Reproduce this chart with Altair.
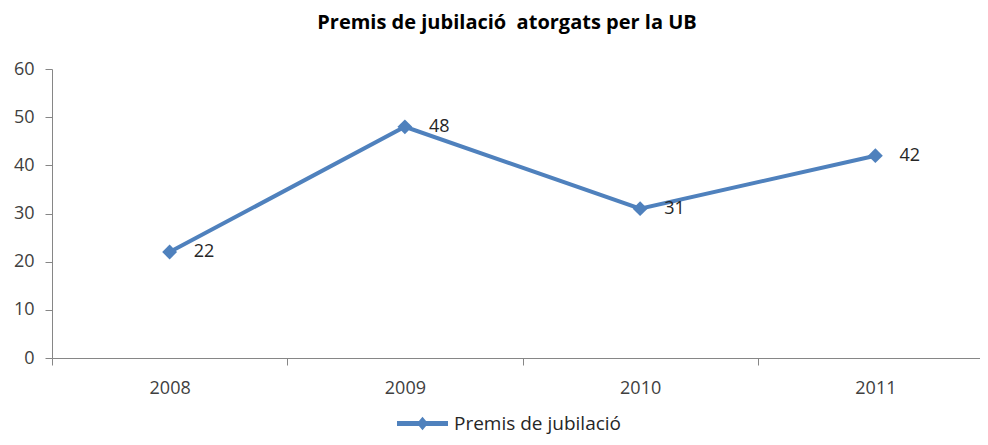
import altair as alt
import pandas as pd

years = ["2008", "2009", "2010", "2011"]
values = [22, 48, 31, 42]
series_name = "Premis de jubilació"
title_text = "Premis de jubilació\u00a0 atorgats per la UB"
y_ticks = [0, 10, 20, 30, 40, 50, 60]

BLUE = "#4F81BD"
FONT = "Open Sans"

df = pd.DataFrame({"year": years, "value": values, "series": [series_name] * len(years)})

x_enc = alt.X(
    "year:N",
    sort=years,
    title=None,
    scale=alt.Scale(range=[0, 941], paddingInner=0, paddingOuter=0),
    axis=alt.Axis(
        labelAngle=0,
        tickBand="extent",
        tickSize=7,
        labelPadding=14,
        labelFontSize=18,
        labelFont=FONT,
        labelColor="#404040",
        domainColor="#868686",
        tickColor="#868686",
        grid=False,
    ),
)
y_enc = alt.Y(
    "value:Q",
    title=None,
    scale=alt.Scale(domain=[0, 60], nice=False),
    axis=alt.Axis(
        values=y_ticks,
        tickSize=7,
        labelPadding=11,
        labelFontSize=18,
        labelFont=FONT,
        labelColor="#404040",
        domainColor="#868686",
        tickColor="#868686",
        grid=False,
    ),
)

line = alt.Chart(df).mark_line(strokeWidth=4).encode(
    x=x_enc,
    y=y_enc,
    color=alt.Color(
        "series:N",
        scale=alt.Scale(range=[BLUE]),
        legend=alt.Legend(
            title=None,
            orient="none",
            legendX=345,
            legendY=329,
            padding=0,
            symbolType="M-1,-0.1H1V0.1H-1Z M0,-0.26L0.22,0L0,0.26L-0.22,0Z",
            symbolSize=2601,
            symbolFillColor=BLUE,
            symbolStrokeWidth=0,
            labelFontSize=19,
            labelFont=FONT,
            labelColor="#262626",
            labelOffset=6,
            labelLimit=400,
        ),
    ),
)

points = alt.Chart(df).mark_point(
    shape="diamond", filled=True, size=220, color=BLUE, opacity=1
).encode(x=x_enc, y=y_enc)

labels = alt.Chart(df).mark_text(
    align="left", baseline="middle", dx=24, fontSize=18, font=FONT, color="#262626"
).encode(x=x_enc, y=y_enc, text="value:Q")

chart = (
    alt.layer(line, points, labels)
    .properties(
        width=928,
        height=289,
        title=alt.TitleParams(
            title_text,
            font=FONT,
            fontSize=20,
            fontWeight="bold",
            color="#000000",
            anchor="middle",
            frame="group",
            dx=-9,
            offset=27,
        ),
        autosize=alt.AutoSizeParams(type="none"),
        padding={"left": 44, "top": 61, "right": 0, "bottom": 79},
    )
    .configure_view(stroke=None)
)

chart.save("out.html", embed_options={"renderer": "svg", "actions": False})
